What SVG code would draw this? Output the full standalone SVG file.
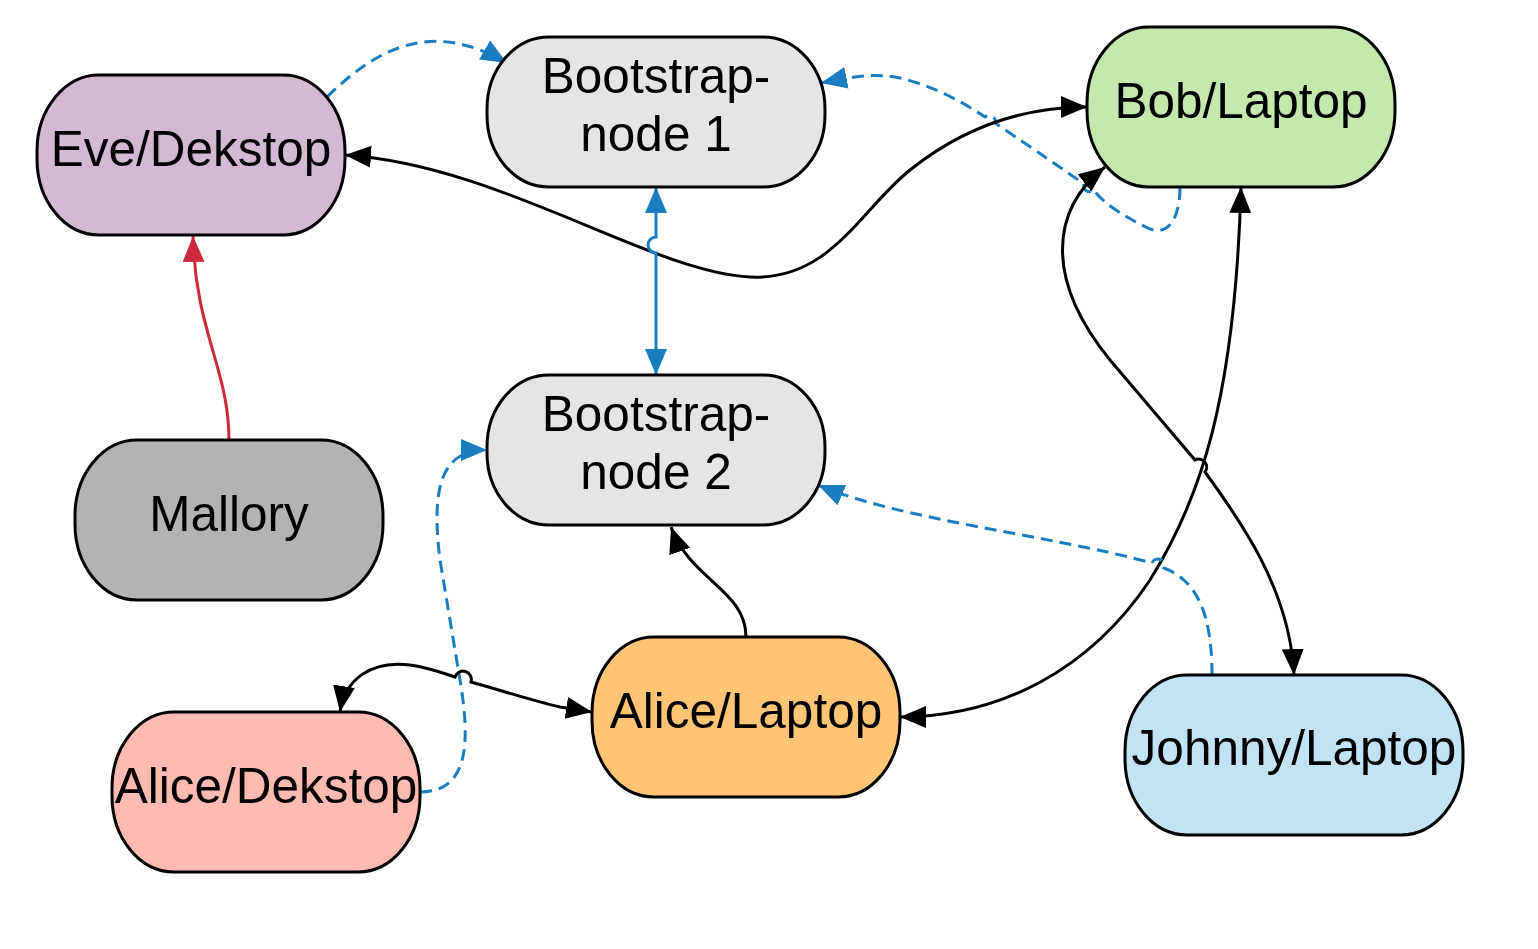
<svg xmlns="http://www.w3.org/2000/svg" width="1538" height="949" viewBox="0 0 1538 949">
<defs>
<style>
.node rect{stroke:#000;stroke-width:3}
.node text{font-family:"Liberation Sans",Arial,sans-serif;font-size:49.5px;fill:#000;text-anchor:middle}
.c{fill:none;stroke-width:3}
.k{stroke:#000}
.b{stroke:#1a7dbf}
.d{stroke-dasharray:12 7}
.r{stroke:#cc2a3c}
</style>
<marker id="ak" markerUnits="userSpaceOnUse" markerWidth="28" markerHeight="24" refX="26" refY="11" orient="auto-start-reverse" viewBox="0 0 28 24"><path d="M0,0 L26,11 L0,22 z" fill="#000"/></marker>
<marker id="ab" markerUnits="userSpaceOnUse" markerWidth="28" markerHeight="24" refX="26" refY="11" orient="auto-start-reverse" viewBox="0 0 28 24"><path d="M0,0 L26,11 L0,22 z" fill="#1a7dbf"/></marker>
<marker id="ar" markerUnits="userSpaceOnUse" markerWidth="28" markerHeight="24" refX="26" refY="11" orient="auto-start-reverse" viewBox="0 0 28 24"><path d="M0,0 L26,11 L0,22 z" fill="#cc2a3c"/></marker>
</defs>
<rect width="1538" height="949" fill="#fff"/>
<g id="connectors">
<path class="c b d" d="M327,97 C375,50 430,18 507,63" marker-end="url(#ab)"/>
<path class="c b d" d="M1180,188 C1180,215 1170,236 1150,229 C1120,215 1100,200 1094,190 A6,6 0 0 1 1084,184 C1050,160 1020,140 995,123 A6,6 0 0 0 985,117 C960,100 930,85 900,78 C880,74 865,74 821,83" marker-end="url(#ab)"/>
<path class="c k" d="M345,155 C500,165 650,272 750,277 C830,281 860,210 910,170 C960,130 1020,107 1087,107" marker-start="url(#ak)" marker-end="url(#ak)"/>
<path class="c b" d="M656,187 V237 A8,8 0 0 0 656,253 V375" marker-start="url(#ab)" marker-end="url(#ab)"/>
<path class="c r" d="M229,440 C229,370 195,330 193,236" marker-end="url(#ar)"/>
<path class="c k" d="M746,637 C746,590 690,580 671,527" marker-end="url(#ak)"/>
<path class="c b d" d="M420,792 C470,792 470,740 460,680 L440,560 C430,480 445,450 487,450" marker-end="url(#ab)"/>
<path class="c k" d="M340,712 C345,680 370,660 410,665 C430,668 440,672 455,677 A8,8 0 0 1 471,682 C500,690 530,700 560,707 L592,712" marker-start="url(#ak)" marker-end="url(#ak)"/>
<path class="c k" d="M1241,187 C1235,400 1200,500 1150,580 C1090,670 1000,717 900,717" marker-start="url(#ak)" marker-end="url(#ak)"/>
<path class="c k" d="M1105,167 C1050,210 1045,280 1110,360 L1195,460 A8,8 0 0 1 1205,472 C1240,520 1290,590 1294,675" marker-start="url(#ak)" marker-end="url(#ak)"/>
<path class="c b d" d="M1212,675 C1212,610 1195,580 1164,568 A6,6 0 0 0 1152,563 C1050,535 900,520 818,485" marker-end="url(#ab)"/>
</g>
<g id="eve" class="node"><rect x="37" y="75" width="308" height="160" rx="62" ry="76" fill="#d2bbd2"/><text x="191" y="166">Eve/Dekstop</text></g>
<g id="bootstrap1" class="node"><rect x="487" y="37" width="338" height="150" rx="62" ry="72" fill="#e5e5e5"/><text x="656" y="93">Bootstrap-</text><text x="656" y="151">node 1</text></g>
<g id="bob" class="node"><rect x="1087" y="27" width="308" height="160" rx="62" ry="76" fill="#c6e8ad"/><text x="1241" y="118">Bob/Laptop</text></g>
<g id="bootstrap2" class="node"><rect x="487" y="375" width="338" height="150" rx="62" ry="72" fill="#e5e5e5"/><text x="656" y="431">Bootstrap-</text><text x="656" y="489">node 2</text></g>
<g id="mallory" class="node"><rect x="75" y="440" width="308" height="160" rx="62" ry="76" fill="#b3b3b3"/><text x="229" y="531">Mallory</text></g>
<g id="alice-laptop" class="node"><rect x="592" y="637" width="308" height="160" rx="62" ry="76" fill="#ffc575"/><text x="746" y="728">Alice/Laptop</text></g>
<g id="alice-desktop" class="node"><rect x="112" y="712" width="308" height="160" rx="62" ry="76" fill="#ffbbb1"/><text x="266" y="803">Alice/Dekstop</text></g>
<g id="johnny" class="node"><rect x="1125" y="675" width="338" height="160" rx="62" ry="76" fill="#c2e3f5"/><text x="1294" y="765">Johnny/Laptop</text></g>
</svg>
